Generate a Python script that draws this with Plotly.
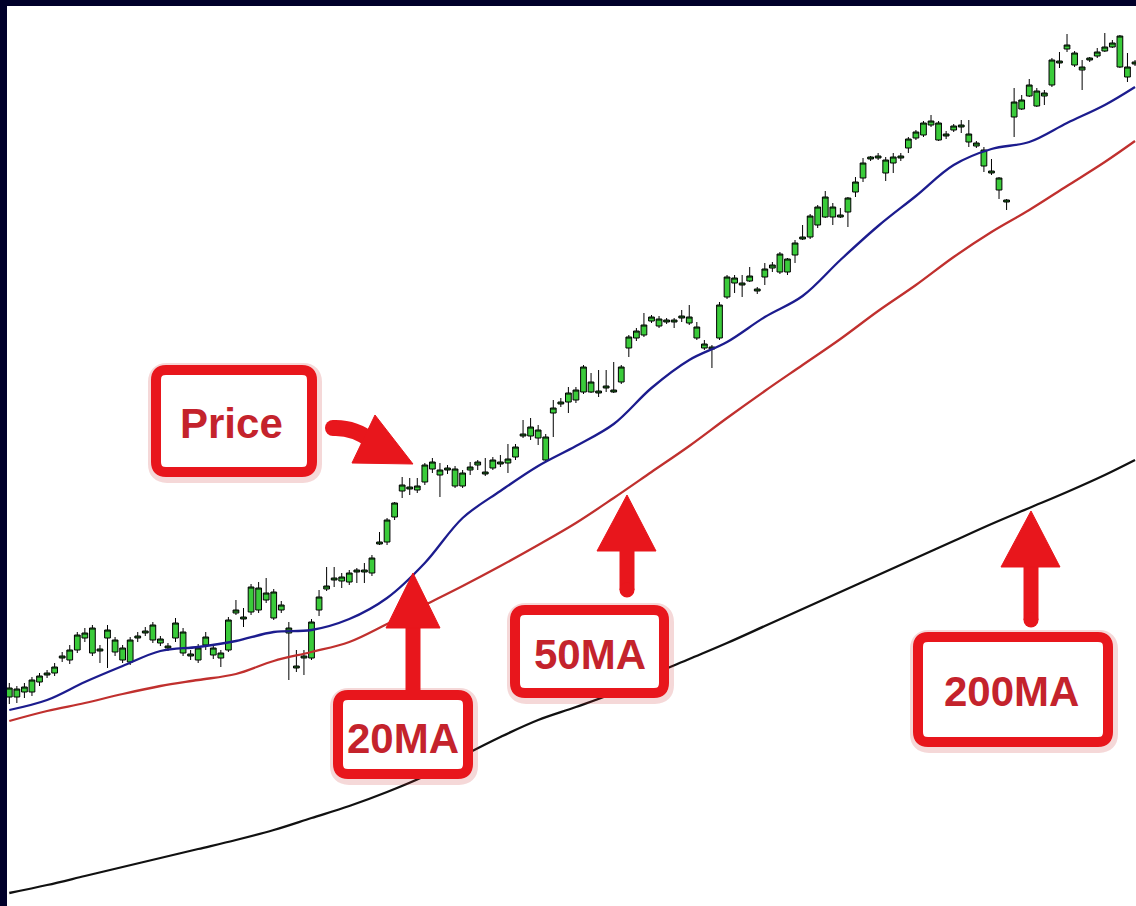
import plotly.graph_objects as go

# price scale: 0..900 (bottom..top of the white chart area)
opens = [209, 209, 214, 214, 224, 231, 233, 248, 246, 256, 268, 253, 255, 268, 254, 246, 244, 268, 273, 266,
         263, 258, 268, 253, 250, 246, 261, 251, 248, 256, 293, 287, 294, 296, 306, 288, 296, 273, 238, 248,
         248, 296, 317, 326, 325, 324, 334, 334, 333, 362, 364, 389, 415, 417, 416, 424, 437, 431, 436, 420,
         420, 436, 441, 432, 438, 442, 443, 449, 470, 470, 468, 446, 493, 502, 504, 506, 514, 514, 513, 518,
         514, 524, 558, 568, 571, 585, 580, 584, 584, 588, 583, 568, 558, 557, 568, 609, 623, 621, 625, 615,
         629, 638, 634, 634, 651, 667, 669, 681, 689, 689, 689, 694, 714, 728, 747, 748, 733, 743, 748, 758,
         768, 771, 781, 766, 770, 776, 779, 764, 760, 740, 733, 716, 704, 789, 797, 810, 800, 810, 821, 843,
         857, 841, 836, 846, 850, 855, 859, 839, 829, 842]
highs = [223, 220, 223, 229, 233, 236, 243, 254, 261, 274, 278, 281, 261, 281, 269, 261, 269, 274, 279, 284,
         270, 263, 288, 278, 256, 262, 274, 262, 256, 289, 306, 298, 322, 324, 328, 317, 305, 284, 256, 256,
         287, 316, 339, 339, 333, 336, 338, 343, 351, 374, 388, 404, 429, 428, 428, 443, 448, 443, 441, 440,
         436, 444, 446, 448, 449, 451, 462, 462, 486, 488, 481, 472, 506, 508, 519, 519, 541, 533, 536, 536,
         544, 541, 571, 578, 593, 591, 590, 588, 588, 596, 601, 584, 566, 561, 604, 631, 631, 631, 639, 619,
         643, 644, 654, 648, 666, 681, 692, 701, 715, 703, 698, 709, 729, 748, 750, 753, 749, 753, 753, 769,
         776, 785, 791, 785, 775, 782, 786, 786, 765, 759, 747, 729, 707, 818, 811, 827, 818, 816, 848, 854,
         872, 855, 846, 849, 858, 873, 866, 871, 853, 846]
lows = [202, 203, 208, 210, 220, 228, 230, 244, 242, 253, 264, 250, 243, 238, 250, 243, 241, 264, 270, 263,
        260, 255, 264, 250, 246, 243, 256, 247, 239, 254, 291, 279, 291, 293, 303, 286, 293, 226, 234, 231,
        246, 290, 315, 319, 318, 321, 323, 323, 330, 361, 361, 386, 408, 411, 413, 421, 433, 409, 432, 418,
        418, 431, 436, 430, 436, 439, 433, 446, 468, 466, 461, 444, 469, 499, 493, 503, 512, 513, 509, 514,
        513, 522, 549, 565, 569, 583, 578, 582, 578, 584, 581, 566, 556, 538, 566, 607, 613, 609, 624, 612,
        621, 634, 632, 631, 643, 666, 667, 678, 688, 681, 688, 679, 709, 724, 745, 746, 725, 733, 745, 753,
        766, 769, 779, 765, 767, 774, 773, 759, 758, 734, 731, 707, 696, 769, 796, 809, 799, 801, 819, 838,
        854, 839, 816, 844, 848, 854, 858, 838, 824, 840]
closes = [218, 217, 219, 226, 230, 233, 239, 250, 256, 271, 273, 278, 257, 276, 266, 258, 266, 270, 275, 281,
          267, 260, 283, 274, 252, 258, 269, 258, 253, 286, 296, 289, 319, 318, 313, 314, 301, 278, 240, 250,
          284, 309, 320, 328, 329, 333, 336, 336, 348, 364, 386, 403, 421, 419, 420, 441, 444, 436, 438, 437,
          433, 439, 444, 434, 446, 444, 447, 459, 472, 479, 476, 469, 498, 504, 513, 516, 539, 524, 515, 520,
          516, 539, 569, 575, 581, 589, 587, 586, 586, 590, 589, 579, 562, 559, 601, 629, 628, 623, 630, 617,
          637, 641, 652, 647, 663, 669, 690, 699, 709, 699, 691, 708, 724, 743, 749, 750, 746, 749, 750, 767,
          774, 783, 785, 783, 772, 780, 781, 772, 763, 756, 735, 728, 706, 804, 806, 821, 815, 813, 846, 845,
          861, 853, 839, 848, 854, 859, 863, 870, 839, 844]
bars = list(range(len(closes)))

# moving averages, sampled every 5 bars
ma_bars = [0, 5, 10, 15, 20, 25, 30, 35, 40, 45, 50, 55, 60, 65, 70, 75, 80, 85, 90, 95,
           100, 105, 110, 115, 120, 125, 130, 135, 140, 145, 149]
ma20 = [196, 206, 224, 240, 255, 259, 265, 274, 276, 287, 308, 343, 388, 415, 440, 460, 482, 518, 546, 564,
        589, 610, 646, 680, 710, 741, 757, 764, 783, 801, 819]
ma50 = [185, 195, 203, 212, 220, 226, 232, 245, 254, 264, 282, 301, 320, 340, 361, 383, 408, 434, 460, 488,
        515, 541, 567, 595, 621, 649, 674, 696, 720, 744, 765]
ma200 = [13, 21, 30, 39, 48, 57, 66, 76, 88, 100, 114, 130, 150, 169, 186, 199, 213, 231, 247, 263,
         280, 297, 314, 331, 348, 365, 382, 398, 414, 431, 446]

labels = ["Price", "20MA", "50MA", "200MA"]

W, H = 1136, 906
ML, MT = 7, 6
RED = "#e8161c"
TEXT_RED = "#c4232c"
GREEN = "#3acb3a"


def px(x):
    return (x - ML) / (W - ML)


def py(y):
    return (H - y) / (H - MT)


def path(points):
    # points: list of (cmd, [(x, y), ...]) in pixel coordinates
    out = []
    for cmd, pts in points:
        out.append(cmd + " ".join(f"{px(x):.5f},{py(y):.5f}" for x, y in pts))
    return " ".join(out) + " Z"


def rounded_path(x0, y0, x1, y1, r):
    return path([
        ("M", [(x0 + r, y0)]), ("L", [(x1 - r, y0)]), ("Q", [(x1, y0), (x1, y0 + r)]),
        ("L", [(x1, y1 - r)]), ("Q", [(x1, y1), (x1 - r, y1)]),
        ("L", [(x0 + r, y1)]), ("Q", [(x0, y1), (x0, y1 - r)]),
        ("L", [(x0, y0 + r)]), ("Q", [(x0, y0), (x0 + r, y0)]),
    ])


def rounded_box(x0, y0, x1, y1, r=10, w=10):
    # outer bounds -> center line of the border, plus a soft glow behind
    cx0, cy0, cx1, cy1 = x0 + w / 2, y0 + w / 2, x1 - w / 2, y1 - w / 2
    glow = dict(type="path", xref="paper", yref="paper",
                path=rounded_path(cx0 + 1, cy0 + 2, cx1 + 1, cy1 + 2, r),
                fillcolor="rgba(0,0,0,0)", line=dict(color="rgba(200,40,40,0.18)", width=w + 8))
    box = dict(type="path", xref="paper", yref="paper",
               path=rounded_path(cx0, cy0, cx1, cy1, r),
               fillcolor="white", line=dict(color=RED, width=w))
    return [glow, box]


def triangle(a, b, c):
    return dict(type="path", xref="paper", yref="paper",
                path=path([("M", [a]), ("L", [b]), ("L", [c])]),
                fillcolor=RED, line=dict(color=RED, width=1))


def shaft(x0, y0, x1, y1, w=15):
    return dict(type="line", xref="paper", yref="paper",
                x0=px(x0), y0=py(y0), x1=px(x1), y1=py(y1),
                line=dict(color=RED, width=w))


def cap(x, y, r=7.5):
    return dict(type="circle", xref="paper", yref="paper",
                x0=px(x - r), x1=px(x + r), y0=py(y + r), y1=py(y - r),
                fillcolor=RED, line=dict(color=RED, width=0))


fig = go.Figure()

fig.add_trace(go.Scatter(x=ma_bars, y=ma200, mode="lines", line=dict(color="#111111", width=2.3, shape="spline"),
                         showlegend=False, hoverinfo="skip"))
fig.add_trace(go.Scatter(x=ma_bars, y=ma50, mode="lines", line=dict(color="#c0302e", width=2.3, shape="spline"),
                         showlegend=False, hoverinfo="skip"))
fig.add_trace(go.Scatter(x=ma_bars, y=ma20, mode="lines", line=dict(color="#1c1c8e", width=2.3, shape="spline"),
                         showlegend=False, hoverinfo="skip"))

fig.add_trace(go.Candlestick(
    x=bars, open=opens, high=highs, low=lows, close=closes,
    increasing=dict(fillcolor=GREEN, line=dict(color="black", width=1)),
    decreasing=dict(fillcolor=GREEN, line=dict(color="black", width=1)),
    whiskerwidth=0, showlegend=False,
))

shapes = [
    # Price
    *rounded_box(151, 365, 317, 477),
    dict(type="path", xref="paper", yref="paper",
         path=f"M{px(333):.5f},{py(428):.5f} Q{px(354):.5f},{py(427):.5f} {px(372):.5f},{py(441):.5f}",
         line=dict(color=RED, width=16)),
    cap(333, 428, 8),
    triangle((375, 415), (413, 464), (352, 463)),
    # 20MA
    *rounded_box(333, 690, 473, 779),
    shaft(413, 626, 413, 690),
    triangle((386, 628), (440, 628), (413, 573)),
    # 50MA
    *rounded_box(510, 605, 669, 698),
    shaft(627, 549, 627, 590),
    cap(627, 590),
    triangle((597, 551), (656, 551), (627, 495)),
    # 200MA
    *rounded_box(913, 632, 1113, 747),
    shaft(1031, 565, 1031, 620),
    cap(1031, 620),
    triangle((1001, 567), (1060, 567), (1031, 511)),
]

label_pos = [(231, 423), (403, 738), (590, 654), (1011, 691)]
annotations = [
    dict(text=f"<b>{t}</b>", x=px(x), y=py(y), xref="paper", yref="paper",
         xanchor="center", yanchor="middle", showarrow=False,
         font=dict(family="Liberation Sans, Arial, sans-serif", size=42, color=TEXT_RED))
    for t, (x, y) in zip(labels, label_pos)
]

fig.update_layout(
    width=W, height=H,
    margin=dict(l=ML, r=0, t=MT, b=0, pad=0),
    paper_bgcolor="#00002a",
    plot_bgcolor="white",
    boxgap=0.24,
    boxgroupgap=0,
    shapes=shapes,
    annotations=annotations,
    xaxis=dict(range=[-0.304, 149.13], visible=False, rangeslider=dict(visible=False), fixedrange=True),
    yaxis=dict(range=[0, 900], visible=False, fixedrange=True),
    showlegend=False,
)

fig.write_html("out.html", config={"displayModeBar": False},
               post_script="document.body.style.margin='0';")
